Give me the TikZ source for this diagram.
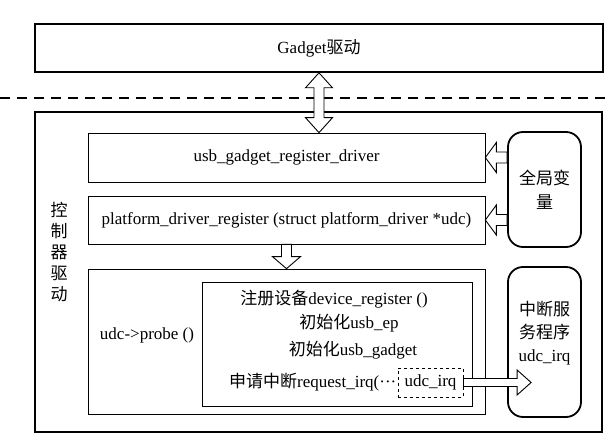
\documentclass[tikz,border=0pt]{standalone}
\usepackage{fontspec}
\setmainfont{Liberation Serif}
\newfontfamily\cjk{Noto Sans CJK SC}
\usepackage{tikz}
\usetikzlibrary{calc}

\tikzset{
	box/.style={draw, line width=0.7pt, minimum width=397pt, inner sep=0pt},
	bigbox/.style={draw, line width=1.6pt, inner sep=0pt},
	roundbox/.style={draw, line width=1.8pt, rounded corners=15pt, minimum width=73pt, inner sep=0pt},
	arrowbody/.style={draw, fill=white, line width=0.9pt, line join=miter},
}

% hollow arrow: tail, tip, shaft half width, head half width, head length
\newcommand{\hollowarrow}[5]{%
	\path (#1) coordinate (ha-a) (#2) coordinate (ha-b);
	\coordinate (ha-p) at ($(ha-b)!#5!(ha-a)$);
	\draw[arrowbody] ($(ha-a)!#3!90:(ha-b)$) -- ($(ha-p)!#3!90:(ha-b)$) -- ($(ha-p)!#4!90:(ha-b)$) -- (ha-b) -- ($(ha-p)!#4!-90:(ha-b)$) -- ($(ha-p)!#3!-90:(ha-b)$) -- ($(ha-a)!#3!-90:(ha-b)$) -- cycle;}
% same with a head at both ends
\newcommand{\doublehollow}[5]{%
	\path (#1) coordinate (ha-a) (#2) coordinate (ha-b);
	\coordinate (ha-p) at ($(ha-a)!#5!(ha-b)$);
	\coordinate (ha-q) at ($(ha-b)!#5!(ha-a)$);
	\draw[arrowbody] (ha-a) -- ($(ha-p)!#4!90:(ha-b)$) -- ($(ha-p)!#3!90:(ha-b)$) -- ($(ha-q)!#3!90:(ha-b)$) -- ($(ha-q)!#4!90:(ha-b)$) -- (ha-b) -- ($(ha-q)!#4!-90:(ha-b)$) -- ($(ha-q)!#3!-90:(ha-b)$) -- ($(ha-p)!#3!-90:(ha-b)$) -- ($(ha-p)!#4!-90:(ha-b)$) -- cycle;}

\begin{document}
\begin{tikzpicture}[x=1pt, y=-1pt, font=\fontsize{17}{21}\selectfont]
	\useasboundingbox (0,0) rectangle (606,438);
	\node[bigbox, minimum width=568pt, minimum height=48pt] (gad) at (319,48) {Gadget{\cjk 驱动}};
	\draw[line width=1.5pt, dash pattern=on 10pt off 7pt] (0,98) -- (606,98);
	\node[bigbox, minimum width=567pt, minimum height=320pt] (ctl) at (318.5,272) {};
	\node[align=center, font=\cjk\fontsize{17}{21}\selectfont] (ctltxt) at (59,252) {控\\制\\器\\驱\\动};
	
	\node[box, minimum height=49pt] (usb) at (286.5,157.5) {usb\_gadget\_register\_driver};
	\node[box, minimum height=48pt] (plat) at (286.5,220) {platform\_driver\_register (struct platform\_driver *udc)};
	\node[box, minimum height=145pt] (probe) at (286.5,341.5) {};
	\node (probetxt) at (147,335) {udc->probe ()};
	\node[box, minimum width=270pt, minimum height=124pt] (init) at (337,344) {};
	\node (reg) at (334,299) {{\cjk 注册设备}device\_register ()};
	\node (ep) at (349,323) {{\cjk 初始化}usb\_ep};
	\node (gdg) at (353,350) {{\cjk 初始化}usb\_gadget};
	\node[draw, dashed, line width=0.9pt, minimum width=65pt, minimum height=29pt, inner sep=0pt] (irq) at (430.5,382.5) {udc\_irq};
	\node[anchor=east, inner sep=1pt] (req) at (irq.west) {{\cjk 申请中断}request\_irq(···};
	
	\node[roundbox, minimum height=115pt] (glob) at (544.5,189.5) {};
	\node[align=center, font=\cjk\fontsize{17}{24}\selectfont] (globtxt) at (glob) {全局变\\量};
	\node[roundbox, minimum height=150pt] (isr) at (544.5,342) {};
	\node[align=center, font=\fontsize{17}{23}\selectfont] (isrtxt) at (544.5,333) {{\cjk 中断服}\\{\cjk 务程序}\\udc\_irq};
	
	\doublehollow{gad.south}{gad.south |- usb.north}{5pt}{13.5pt}{15pt}
	\hollowarrow{glob.west |- usb.east}{usb.east}{5.5pt}{15pt}{11pt}
	\hollowarrow{glob.west |- plat.east}{plat.east}{5.5pt}{15pt}{11pt}
	\hollowarrow{plat.south}{probe.north}{5pt}{14pt}{12pt}
	\hollowarrow{irq.east}{$(isr.west |- irq.east)+(24,0)$}{4pt}{12.5pt}{14pt}
\end{tikzpicture}
\end{document}
